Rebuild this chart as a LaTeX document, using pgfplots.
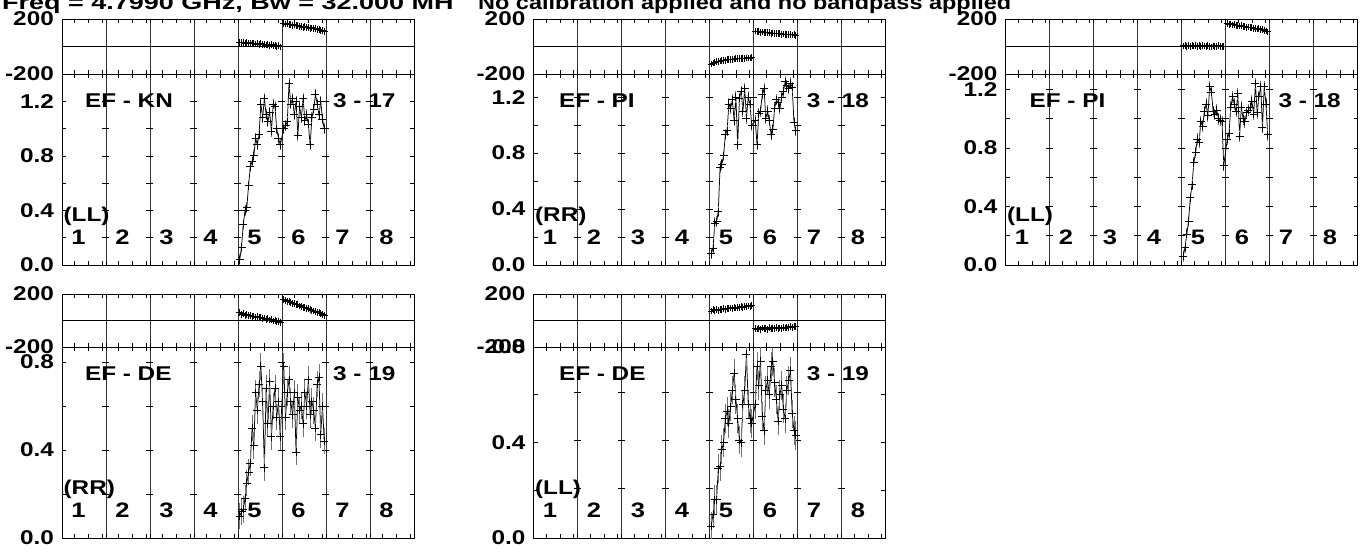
\documentclass[border=0pt]{standalone}
\usepackage{graphicx}
\usepackage{fontspec}
\setmainfont{Liberation Sans}
\usepackage{pgfplots}
\usepackage{pgfplotstable}
\pgfplotsset{compat=1.18}

\newcommand{\SX}[1]{\scalebox{1.22}[1]{#1}}
\newcommand{\lf}{\fontsize{20}{20}\selectfont\bfseries}

% x: IF position (IF k spans k-1..k), a: amplitude, p: phase (deg)
\pgfplotstableread{
x a p
4.04 0.04 30
4.08 0.13 28
4.12 0.30 31
4.16 0.40 25
4.20 0.42 27
4.24 0.58 22
4.28 0.72 26
4.32 0.76 20
4.36 0.80 23
4.40 0.93 18
4.44 0.88 21
4.48 0.96 15
4.52 1.18 19
4.56 1.08 13
4.60 1.22 16
4.64 1.10 11
4.68 1.05 14
4.72 1.12 8
4.76 0.98 12
4.80 1.18 5
4.84 1.16 9
4.88 1.00 2
4.92 0.93 6
4.96 0.88 -3
5.04 1.00 168
5.08 1.02 163
5.12 1.05 166
5.16 1.33 158
5.20 1.18 160
5.24 1.22 154
5.28 1.10 157
5.32 1.20 150
5.36 0.95 152
5.40 1.16 146
5.44 1.08 148
5.48 1.22 141
5.52 1.06 144
5.56 1.10 137
5.60 1.03 139
5.64 0.88 133
5.68 1.08 135
5.72 1.14 128
5.76 1.25 130
5.80 1.18 123
5.84 1.10 125
5.88 1.20 118
5.92 1.07 114
5.96 1.00 108
}\dataA

\pgfplotstableread{
x a p
4.04 0.08 -128
4.08 0.12 -120
4.12 0.30 -117
4.16 0.31 -112
4.20 0.38 -110
4.24 0.70 -106
4.28 0.72 -104
4.32 0.78 -101
4.36 0.93 -100
4.40 0.96 -97
4.44 1.15 -96
4.48 1.12 -94
4.52 1.18 -93
4.56 1.03 -91
4.60 1.20 -90
4.64 0.86 -89
4.68 1.19 -87
4.72 1.24 -88
4.76 1.10 -85
4.80 1.26 -86
4.84 1.05 -84
4.88 1.20 -83
4.92 1.15 -84
4.96 1.00 -80
5.04 1.03 112
5.08 0.86 108
5.12 1.08 110
5.16 1.10 104
5.20 1.22 106
5.24 1.26 101
5.28 1.05 103
5.32 1.10 99
5.36 1.03 100
5.40 0.93 96
5.44 0.97 98
5.48 1.12 94
5.52 1.18 95
5.56 1.16 92
5.60 1.12 93
5.64 1.20 90
5.68 1.24 91
5.72 1.31 88
5.76 1.28 89
5.80 1.26 86
5.84 1.30 87
5.88 1.27 84
5.92 1.02 85
5.96 0.96 82
}\dataB

\pgfplotstableread{
x a p
4.04 0.06 4
4.08 0.12 10
4.12 0.21 2
4.16 0.30 8
4.20 0.46 0
4.24 0.55 6
4.28 0.70 3
4.32 0.77 9
4.36 0.86 1
4.40 0.84 5
4.44 0.98 -2
4.48 0.95 7
4.52 1.05 3
4.56 1.10 0
4.60 1.02 6
4.64 1.22 2
4.68 1.18 -3
4.72 1.05 4
4.76 1.03 1
4.80 1.06 -1
4.84 1.00 5
4.88 0.99 -2
4.92 0.98 2
4.96 0.68 0
5.04 0.86 166
5.08 0.90 162
5.12 1.08 164
5.16 1.15 157
5.20 1.10 159
5.24 1.05 153
5.28 1.17 155
5.32 0.88 149
5.36 1.08 151
5.40 1.00 145
5.44 0.98 147
5.48 1.04 140
5.52 1.06 142
5.56 1.08 136
5.60 1.12 138
5.64 1.03 131
5.68 1.24 133
5.72 1.04 127
5.76 1.15 128
5.80 1.22 121
5.84 0.94 123
5.88 1.22 116
5.92 1.10 112
5.96 0.89 106
}\dataC

\pgfplotstableread{
x a p
4.04 0.10 58
4.08 0.12 45
4.12 0.13 52
4.16 0.18 40
4.20 0.25 46
4.24 0.30 35
4.28 0.34 40
4.32 0.50 30
4.36 0.42 34
4.40 0.66 25
4.44 0.58 29
4.48 0.70 20
4.52 0.78 24
4.56 0.62 14
4.60 0.32 19
4.64 0.68 8
4.68 0.52 13
4.72 0.71 3
4.76 0.46 8
4.80 0.60 -4
4.84 0.68 2
4.88 0.55 -10
4.92 0.62 -5
4.96 0.46 -18
5.04 0.78 158
5.08 0.55 150
5.12 0.66 145
5.16 0.72 142
5.20 0.62 135
5.24 0.56 130
5.28 0.66 128
5.32 0.39 120
5.36 0.64 118
5.40 0.58 110
5.44 0.60 108
5.48 0.52 100
5.52 0.66 98
5.56 0.60 92
5.60 0.72 88
5.64 0.56 82
5.68 0.62 78
5.72 0.58 72
5.76 0.50 68
5.80 0.70 62
5.84 0.73 58
5.88 0.47 52
5.92 0.60 48
5.96 0.44 40
}\dataD

\pgfplotstableread{
x a p
4.04 0.05 72
4.08 0.10 80
4.12 0.16 76
4.16 0.16 84
4.20 0.29 78
4.24 0.30 86
4.28 0.37 82
4.32 0.40 88
4.36 0.50 85
4.40 0.53 92
4.44 0.48 88
4.48 0.55 95
4.52 0.62 90
4.56 0.69 98
4.60 0.58 94
4.64 0.50 100
4.68 0.41 97
4.72 0.40 104
4.76 0.56 100
4.80 0.62 107
4.84 0.77 104
4.88 0.56 110
4.92 0.50 108
4.96 0.48 115
5.04 0.56 -60
5.08 0.72 -64
5.12 0.64 -58
5.16 0.74 -66
5.20 0.51 -56
5.24 0.45 -62
5.28 0.62 -60
5.32 0.66 -65
5.36 0.60 -55
5.40 0.72 -60
5.44 0.74 -58
5.48 0.65 -63
5.52 0.58 -54
5.56 0.49 -59
5.60 0.60 -56
5.64 0.64 -61
5.68 0.54 -52
5.72 0.50 -57
5.76 0.62 -50
5.80 0.66 -55
5.84 0.70 -48
5.88 0.52 -52
5.92 0.45 -46
5.96 0.43 -44
}\dataE

\pgfplotsset{
  base/.style={
    scale only axis, width=352bp, xmin=0, xmax=8,
    axis line style={black, line width=0.8bp},
    xtick={1,2,3,4,5,6,7}, xticklabels={},
    minor xtick={0.29,0.6,0.91,1.29,1.6,1.91,2.29,2.6,2.91,3.29,3.6,3.91,4.29,4.6,4.91,5.29,5.6,5.91,6.29,6.6,6.91,7.29,7.6,7.91},
    tick align=inside, xtick pos=both, ytick pos=both,
    major tick length=4bp, minor tick length=4bp,
    tick style={black, line width=0.7bp},
    xmajorgrids, major x grid style={black!80, line width=0.8bp},
    yticklabel style={font=\lf, inner sep=0pt, xshift=-8bp},
  },
  phase/.style={base, ymin=-200, ymax=200, ytick={-200,200},
    yticklabels={\SX{-200},\SX{200}},
    extra y ticks={0}, extra y tick labels={},
    extra y tick style={ymajorgrids=true, major y grid style={black, line width=0.8bp}, major tick length=0pt}},
  amp/.style={base, height=191bp, ymin=0},
  ampdata/.style={black, line width=0.75bp, mark=+, mark size=4bp,
    mark options={line width=0.9bp, solid},
    error bars/y dir=both, error bars/y fixed=#1,
    error bars/error bar style={black!55, line width=0.9bp}, error bars/error mark=none},
  phdata/.style={black, line width=0.8bp, mark=+, mark size=3.4bp,
    mark options={line width=0.9bp, solid},
    error bars/y dir=both, error bars/y fixed=10,
    error bars/error bar style={black!55, line width=0.9bp}, error bars/error mark=none},
}

\newcommand{\crossA}[1]{\draw[black, line width=0.7bp]
  (axis cs:#1,0.2) +(-3.5bp,0) -- +(3.5bp,0)
  (axis cs:#1,0.4) +(-3.5bp,0) -- +(3.5bp,0)
  (axis cs:#1,0.6) +(-3.5bp,0) -- +(3.5bp,0)
  (axis cs:#1,0.8) +(-3.5bp,0) -- +(3.5bp,0)
  (axis cs:#1,1.0) +(-3.5bp,0) -- +(3.5bp,0)
  (axis cs:#1,1.2) +(-3.5bp,0) -- +(3.5bp,0);}
\newcommand{\crossB}[1]{\draw[black, line width=0.7bp]
  (axis cs:#1,0.2) +(-3.5bp,0) -- +(3.5bp,0)
  (axis cs:#1,0.4) +(-3.5bp,0) -- +(3.5bp,0)
  (axis cs:#1,0.6) +(-3.5bp,0) -- +(3.5bp,0)
  (axis cs:#1,0.8) +(-3.5bp,0) -- +(3.5bp,0);}

\newcommand{\ifnums}{%
  \node[font=\fontsize{21}{21}\selectfont\bfseries, anchor=base] at (rel axis cs:0.047,0.108) {\SX{1}};
  \node[font=\fontsize{21}{21}\selectfont\bfseries, anchor=base] at (rel axis cs:0.172,0.108) {\SX{2}};
  \node[font=\fontsize{21}{21}\selectfont\bfseries, anchor=base] at (rel axis cs:0.297,0.108) {\SX{3}};
  \node[font=\fontsize{21}{21}\selectfont\bfseries, anchor=base] at (rel axis cs:0.422,0.108) {\SX{4}};
  \node[font=\fontsize{21}{21}\selectfont\bfseries, anchor=base] at (rel axis cs:0.547,0.108) {\SX{5}};
  \node[font=\fontsize{21}{21}\selectfont\bfseries, anchor=base] at (rel axis cs:0.672,0.108) {\SX{6}};
  \node[font=\fontsize{21}{21}\selectfont\bfseries, anchor=base] at (rel axis cs:0.797,0.108) {\SX{7}};
  \node[font=\fontsize{21}{21}\selectfont\bfseries, anchor=base] at (rel axis cs:0.922,0.108) {\SX{8}};}

% #1 baseline label, #2 numbers label, #3 polarisation, #4/#5 rel x positions
\newcommand{\labels}[5]{%
  \node[font=\lf, anchor=base west, inner sep=0pt] at (rel axis cs:#4,0.826) {\SX{#1}};
  \node[font=\lf, anchor=base west, inner sep=0pt] at (rel axis cs:#5,0.826) {\SX{#2}};
  \node[font=\lf, anchor=base west, inner sep=0pt] at (rel axis cs:0.004,0.23) {\SX{#3}};
  \ifnums}

\begin{document}
\begin{tikzpicture}
\useasboundingbox (0,0) rectangle (1366bp,552bp);
\fill[white] (0,0) rectangle (1366bp,552bp);

\node[font=\fontsize{20}{20}\selectfont\bfseries, anchor=base west, inner sep=0pt] at (2bp,542.5bp) {\scalebox{1.354}[1]{Freq = 4.7990 GHz, Bw = 32.000 MH}};
\node[font=\fontsize{20}{20}\selectfont\bfseries, anchor=base west, inner sep=0pt] at (478bp,542.5bp) {\scalebox{1.177}[1]{No calibration applied and no bandpass applied}};

% ---------- Panel A : EF - KN (LL)
\begin{axis}[phase, at={(62bp,478bp)}, anchor=south west, height=55bp]
\addplot+[phdata, restrict x to domain=4:5] table[x=x,y=p] {\dataA};
\addplot+[phdata, restrict x to domain=5:6] table[x=x,y=p] {\dataA};
\end{axis}
\begin{axis}[amp, at={(62bp,287bp)}, anchor=south west, ymax=1.4,
  ytick={0,0.4,0.8,1.2}, yticklabels={\SX{0.0},\SX{0.4},\SX{0.8},\SX{1.2}}, minor ytick={0.2,0.6,1.0}]
\pgfplotsinvokeforeach{1,...,7}{\crossA{#1}}
\addplot+[ampdata=0.04] table[x=x,y=a] {\dataA};
\labels{EF - KN}{3 - 17}{(LL)}{0.065}{0.77}
\end{axis}

% ---------- Panel B : EF - PI (RR)
\begin{axis}[phase, at={(533.5bp,478bp)}, anchor=south west, height=55bp]
\addplot+[phdata, restrict x to domain=4:5] table[x=x,y=p] {\dataB};
\addplot+[phdata, restrict x to domain=5:6] table[x=x,y=p] {\dataB};
\end{axis}
\begin{axis}[amp, at={(533.5bp,287bp)}, anchor=south west, ymax=1.365,
  ytick={0,0.4,0.8,1.2}, yticklabels={\SX{0.0},\SX{0.4},\SX{0.8},\SX{1.2}}, minor ytick={0.2,0.6,1.0}]
\pgfplotsinvokeforeach{1,...,7}{\crossA{#1}}
\addplot+[ampdata=0.04] table[x=x,y=a] {\dataB};
\labels{EF - PI}{3 - 18}{(RR)}{0.072}{0.776}
\end{axis}

% ---------- Panel C : EF - PI (LL)
\begin{axis}[phase, at={(1005.5bp,478bp)}, anchor=south west, height=55bp]
\addplot+[phdata, restrict x to domain=4:5] table[x=x,y=p] {\dataC};
\addplot+[phdata, restrict x to domain=5:6] table[x=x,y=p] {\dataC};
\end{axis}
\begin{axis}[amp, at={(1005.5bp,287bp)}, anchor=south west, ymax=1.306,
  ytick={0,0.4,0.8,1.2}, yticklabels={\SX{0.0},\SX{0.4},\SX{0.8},\SX{1.2}}, minor ytick={0.2,0.6,1.0}]
\pgfplotsinvokeforeach{1,...,7}{\crossA{#1}}
\addplot+[ampdata=0.04] table[x=x,y=a] {\dataC};
\labels{EF - PI}{3 - 18}{(LL)}{0.068}{0.775}
\end{axis}

% ---------- Panel D : EF - DE (RR)
\begin{axis}[phase, at={(62bp,205bp)}, anchor=south west, height=53bp]
\addplot+[phdata, restrict x to domain=4:5] table[x=x,y=p] {\dataD};
\addplot+[phdata, restrict x to domain=5:6] table[x=x,y=p] {\dataD};
\end{axis}
\begin{axis}[amp, at={(62bp,14bp)}, anchor=south west, ymax=0.868,
  ytick={0,0.4,0.8}, yticklabels={\SX{0.0},\SX{0.4},\SX{0.8}}, minor ytick={0.2,0.6}]
\pgfplotsinvokeforeach{1,...,7}{\crossB{#1}}
\addplot+[ampdata=0.06] table[x=x,y=a] {\dataD};
\labels{EF - DE}{3 - 19}{(RR)}{0.065}{0.77}
\end{axis}

% ---------- Panel E : EF - DE (LL)
\begin{axis}[phase, at={(533.5bp,205bp)}, anchor=south west, height=53bp]
\addplot+[phdata, restrict x to domain=4:5] table[x=x,y=p] {\dataE};
\addplot+[phdata, restrict x to domain=5:6] table[x=x,y=p] {\dataE};
\end{axis}
\begin{axis}[amp, at={(533.5bp,14bp)}, anchor=south west, ymax=0.8,
  ytick={0,0.4,0.8}, yticklabels={\SX{0.0},\SX{0.4},\SX{0.8}}, minor ytick={0.2,0.6}]
\pgfplotsinvokeforeach{1,...,7}{\crossB{#1}}
\addplot+[ampdata=0.06] table[x=x,y=a] {\dataE};
\labels{EF - DE}{3 - 19}{(LL)}{0.072}{0.776}
\end{axis}
\end{tikzpicture}
\end{document}
